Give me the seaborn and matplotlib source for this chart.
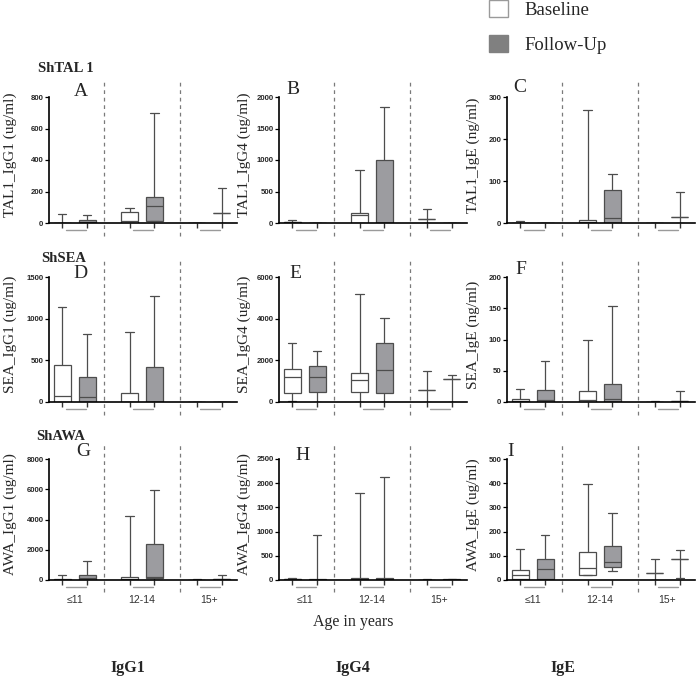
import itertools
import pandas as pd
import seaborn as sns
import matplotlib.pyplot as plt
import matplotlib.transforms as mtransforms
from matplotlib.patches import Patch

# ---------------------------------------
# Data: five-number summaries
# (min, q1, median, q3, max), order:
# <=11 Baseline, <=11 Follow-Up, 12-14 Baseline, 12-14 Follow-Up, 15+ Baseline, 15+ Follow-Up
# ---------------------------------------
ages = ["≤11", "12-14", "15+"]
visits = ["Baseline", "Follow-Up"]

tal1_igg1 = [[0, 0, 0, 2, 60], [0, 0, 5, 20, 52], [0, 2, 12, 68, 98],
             [10, 15, 108, 162, 700], [0, 0, 0, 0, 1], [0, 65, 65, 65, 225]]
tal1_igg4 = [[0, 2, 10, 20, 45], [0, 0, 0, 0, 0], [0, 5, 124, 162, 840],
             [0, 0, 0, 1000, 1840], [0, 60, 60, 60, 220], [0, 0, 0, 0, 0]]
tal1_ige = [[0, 0, 0, 0, 5], [0, 0, 0, 0, 0], [0, 0, 3, 6, 268],
            [0, 0, 12, 78, 116], [0, 0, 0, 0, 0], [0, 15, 15, 15, 75]]
sea_igg1 = [[0, 0, 70, 445, 1145], [0, 0, 55, 295, 820], [0, 0, 5, 105, 840],
            [0, 0, 0, 425, 1270], [0, 0, 0, 0, 0], [0, 0, 0, 0, 0]]
sea_igg4 = [[50, 420, 1180, 1590, 2850], [0, 500, 1180, 1740, 2450], [0, 480, 1080, 1400, 5200],
            [0, 420, 1560, 2850, 4030], [0, 580, 580, 580, 1500], [0, 1100, 1100, 1100, 1280]]
sea_ige = [[0, 0, 1, 5, 21], [0, 0, 4, 19, 66], [0, 0, 4, 18, 100],
           [0, 0, 5, 29, 153], [0, 0, 0, 0.5, 1], [0, 2, 2, 2, 18]]
awa_igg1 = [[0, 0, 20, 90, 330], [0, 0, 100, 330, 1250], [0, 0, 60, 220, 4200],
            [0, 130, 200, 2380, 5950], [0, 0, 20, 20, 60], [0, 30, 60, 60, 300]]
awa_igg4 = [[0, 5, 15, 26, 35], [0, 2, 10, 20, 940], [0, 5, 20, 40, 1800],
            [0, 5, 20, 40, 2120], [0, 2, 5, 10, 15], [0, 5, 10, 20, 30]]
awa_ige = [[0, 3, 19, 42, 128], [0, 5, 46, 86, 188], [20, 22, 50, 114, 395],
           [38, 54, 74, 140, 275], [0, 27, 27, 27, 85], [9, 85, 85, 85, 125]]

summaries = [tal1_igg1, tal1_igg4, tal1_ige, sea_igg1, sea_igg4, sea_ige,
             awa_igg1, awa_igg4, awa_ige]
ylabels = ["TAL1_IgG1 (ug/ml)", "TAL1_IgG4 (ug/ml)", "TAL1_IgE (ng/ml)",
           "SEA_IgG1 (ug/ml)", "SEA_IgG4 (ug/ml)", "SEA_IgE (ng/ml)",
           "AWA_IgG1 (ug/ml)", "AWA_IgG4 (ug/ml)", "AWA_IgE (ug/ml)"]
yticks = [[0, 200, 400, 600, 800], [0, 500, 1000, 1500, 2000], [0, 100, 200, 300],
          [0, 500, 1000, 1500], [0, 2000, 4000, 6000], [0, 50, 100, 150, 200],
          [0, 2000, 4000, 6000, 8000], [0, 500, 1000, 1500, 2000, 2500], [0, 100, 200, 300, 400, 500]]
letters = ["A", "B", "C", "D", "E", "F", "G", "H", "I"]
sections = ["ShTAL 1", "ShSEA", "ShAWA"]
columns = ["IgG1", "IgG4", "IgE"]

# ---------------------------------------
# Layout (pixels of a 700x685 canvas)
# ---------------------------------------
W, H = 700, 685
col_left = [49, 279, 507]
ax_w = 188
row_top = [97, 277, 459]
row_h = [126, 125, 121]
ylab_x = [10, 244, 473]
letter_xy = [(81, 91), (293, 89), (520, 87), (80, 274), (295, 274), (521, 269),
             (83, 452), (303, 455), (511, 451)]
section_xy = [(66, 68), (64, 258), (61, 436)]

def fx(x):
    return x / W

def fy(y):
    return 1 - y / H

sns.set_style("ticks")
plt.rcParams['font.family'] = ['Liberation Sans', 'DejaVu Sans']
serif = ['Liberation Serif', 'DejaVu Serif']

palette = {"Baseline": "white", "Follow-Up": "#9c9ca0"}
dodge = 0.185

fig = plt.figure(figsize=(7, 6.85), dpi=100)

for i, five_nums in enumerate(summaries):
    r, c = divmod(i, 3)
    rows = []
    for (age, visit), five in zip(itertools.product(ages, visits), five_nums):
        for v in five:
            rows.append({"age": age, "visit": visit, "value": v})
    df = pd.DataFrame(rows)

    ax = fig.add_axes([fx(col_left[c]), fy(row_top[r] + row_h[r]), ax_w / W, row_h[r] / H])
    sns.boxplot(data=df, x="age", y="value", hue="visit", order=ages, hue_order=visits,
                palette=palette, saturation=1, whis=(0, 100), width=0.74, gap=0.32,
                linecolor="#4d4d4d", linewidth=0.9, showfliers=False, legend=False, ax=ax)
    ax.set_xlabel("")
    ax.set_ylabel("")
    ax.set_xlim(-0.38, 2.41)
    ax.set_ylim(0, yticks[i][-1])
    ax.set_yticks(yticks[i])
    for lbl in ax.get_yticklabels():
        lbl.set_fontweight("bold")
    ax.tick_params(axis="y", labelsize=5.6, length=3, width=0.9, pad=1, color="black")

    ax.spines[["top", "right"]].set_visible(False)
    for s in ["left", "bottom"]:
        ax.spines[s].set_linewidth(1.2)
        ax.spines[s].set_color("black")

    pos = [k + sgn * dodge for k in range(3) for sgn in (-1, 1)]
    ax.set_xticks(pos, [""] * 6)
    ax.tick_params(axis="x", which="major", length=3.5, width=1, color="#333333")
    if r == 2:
        ax.set_xticks(range(3), ages, minor=True)
        ax.tick_params(axis="x", which="minor", length=0, pad=11, labelsize=7.5,
                       labelcolor="#333333")

    trans = mtransforms.blended_transform_factory(ax.transData, ax.transAxes)
    for k in range(3):
        ax.plot([k - dodge + 0.05, k + dodge - 0.02], [-0.058, -0.058], transform=trans,
                clip_on=False, color="#9a9a9a", lw=1)
    for xv in (0.44, 1.57):
        ax.axvline(xv, ymin=-0.1, ymax=1.14, clip_on=False, ls=(0, (3, 3)),
                   color="#7a7a7a", lw=0.9)

    mid = row_top[r] + row_h[r] / 2 - 5
    fig.text(fx(ylab_x[c]), fy(mid), ylabels[i], rotation=90, ha="center", va="center",
             family=serif, fontsize=11)
    lx, ly = letter_xy[i]
    fig.text(fx(lx), fy(ly), letters[i], ha="center", va="center", family=serif, fontsize=14)

for name, (sx, sy) in zip(sections, section_xy):
    fig.text(fx(sx), fy(sy), name, ha="center", va="center", family=serif,
             fontsize=10.5, fontweight="bold")

fig.text(fx(353), fy(622), "Age in years", ha="center", va="center", family=serif, fontsize=11.5)
for name, x in zip(columns, [128, 353, 563]):
    fig.text(fx(x), fy(668), name, ha="center", va="center", family=serif,
             fontsize=11.5, fontweight="bold")

handles = [Patch(facecolor="white", edgecolor="#9a9a9a", lw=1, label="Baseline"),
           Patch(facecolor="#808080", edgecolor="#808080", label="Follow-Up")]
fig.legend(handles=handles, loc="upper left", bbox_to_anchor=(fx(489), fy(0)),
           frameon=False, prop={"family": serif, "size": 13.5}, handlelength=1.0,
           handleheight=1.0, handletextpad=0.9, labelspacing=0.85, borderpad=0.0,
           borderaxespad=0)

fig.savefig("out.png", dpi=100)
